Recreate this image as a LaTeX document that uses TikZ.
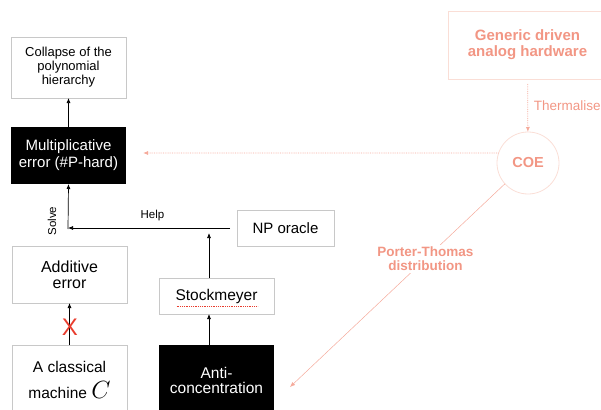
\documentclass[tikz,border=0pt]{standalone}
\usepackage{fontspec}
\setmainfont{Liberation Sans}
\usetikzlibrary{arrows,arrows.meta,calc,positioning}
\definecolor{salmon}{RGB}{242,150,132}
\definecolor{salmonline}{RGB}{245,170,155}
\definecolor{salmonpale}{RGB}{250,222,214}
\definecolor{boxgray}{RGB}{200,200,200}
\definecolor{crossred}{RGB}{232,60,45}

\begin{document}
\begin{tikzpicture}[x=1pt,y=-1pt,
      every node/.style={font=\fontsize{15}{17}\selectfont, align=center, inner sep=0pt, outer sep=0pt},
      plain/.style={draw=boxgray, line width=0.8pt, minimum width=115pt},
      dark/.style={fill=black, text=white, minimum width=115pt},
      pinkbox/.style={draw=salmonpale, line width=0.8pt, text=salmon, font=\fontsize{15}{16}\selectfont\bfseries},
      link/.style={-{Latex[length=5pt,width=4pt]}, line width=0.7pt},
      pinklink/.style={-{Latex[length=5pt,width=4pt]}, salmonline, densely dotted, line width=0.8pt},
      small/.style={font=\fontsize{11.5}{12}\selectfont}]
      \useasboundingbox (0,0) rectangle (601,409);
      % left column
      \node[plain, minimum height=61pt, font=\fontsize{13}{14}\selectfont] (collapse) at (68.5,67.5) {Collapse of the\\polynomial\\hierarchy};
      \node[dark, minimum height=57pt] (mult) at (68.5,155.5) {Multiplicative\\error (\#P-hard)};
      \node[plain, minimum height=57pt, font=\fontsize{16}{16}\selectfont] (additive) at (69.5,274.5) {Additive\\error};
      \node[plain, minimum height=70pt, font=\fontsize{15.5}{26}\selectfont] (classical) at (69.5,380) {A classical\\machine {\fontsize{24}{24}\selectfont$C$}};
      % middle column
      \node[plain, minimum width=97pt, minimum height=36pt] (np) at (285.5,228) {NP oracle};
      \node[plain, minimum height=36pt, font=\fontsize{15.5}{17}\selectfont] (stock) at (216.5,296) {Stockmeyer};
      \node[dark, minimum height=70pt, font=\fontsize{15.5}{15}\selectfont] (anti) at (216.5,380) {Anti-\\concentration};
      % right side
      \node[pinkbox, minimum width=159pt, minimum height=68pt] (hardware) at (527.5,45) {Generic driven\\analog hardware};
      \node[circle, draw=salmonpale, line width=0.8pt, minimum size=62pt, text=salmon, font=\fontsize{14.5}{15}\selectfont\bfseries] (coe) at (528,163) {COE};
      \coordinate (solvept) at (68,229);
      \coordinate (helppt) at (209,233);
      \coordinate (multin) at (143,153);
      \coordinate (antiin) at (290,387);
      % arrows
      \draw[link] (mult) -- (collapse);
      \draw[link] (solvept) -- (mult.south);
      \draw[link, shorten <=7pt] (np.west) -- (solvept |- np.west) node[midway, above=7pt, small] (help) {Help};
      \node[small, rotate=90] (solve) at (52,221) {Solve};
      \draw[link] (stock.north -| helppt) -- (helppt);
      \draw[link] (anti.north -| helppt) -- (stock.south -| helppt);
      \draw[link] (classical) -- (additive);
      \node[text=crossred, font=\fontsize{24}{24}\selectfont] (cross) at (70,327) {X};
      \draw[crossred, densely dotted, line width=0.8pt] ($(stock.center)+(-40,10)$) -- ($(stock.center)+(41,10)$);
      \draw[pinklink, shorten <=5pt] (hardware) -- (coe) node[midway, right=6pt, text=salmon, font=\fontsize{13.5}{14}\selectfont] (therm) {Thermalised};
      \draw[pinklink] (coe.161) -- (multin);
      \draw[-{Latex[length=5pt,width=4pt]}, salmonline, line width=0.5pt] (coe.222) -- (antiin) node[pos=0.37, fill=white, inner sep=2pt, text=salmon, font=\fontsize{13.5}{14}\selectfont\bfseries] (porter) {Porter-Thomas\\distribution};
\end{tikzpicture}
\end{document}
